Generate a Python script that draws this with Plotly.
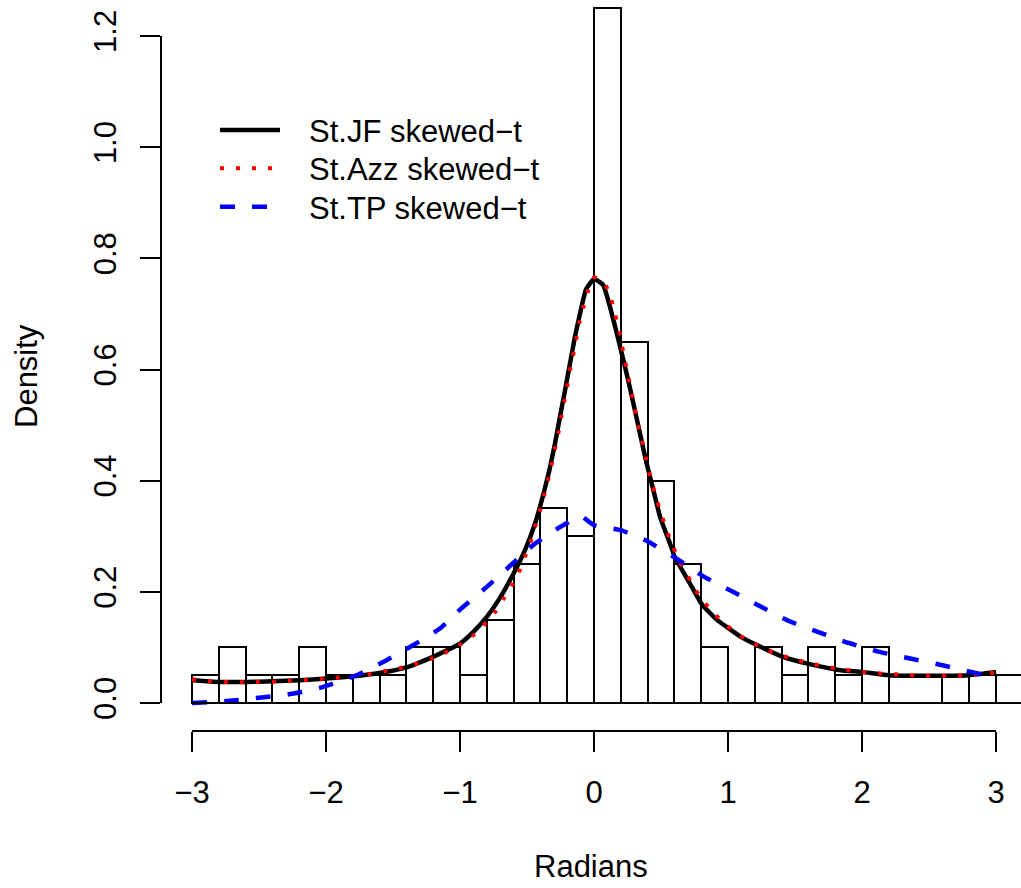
import plotly.graph_objects as go

# ---------------- data ----------------
bin_left = [-3.0, -2.8, -2.6, -2.4, -2.2, -2.0, -1.8, -1.6, -1.4, -1.2, -1.0,
            -0.8, -0.6, -0.4, -0.2, 0.0, 0.2, 0.4, 0.6, 0.8, 1.0, 1.2, 1.4,
            1.6, 1.8, 2.0, 2.2, 2.4, 2.6, 2.8, 3.0]
bin_width = 0.2
density = [0.05, 0.10, 0.05, 0.05, 0.10, 0.05, 0.05, 0.05, 0.10, 0.10, 0.05,
           0.15, 0.25, 0.35, 0.30, 1.25, 0.65, 0.40, 0.25, 0.10, 0.00, 0.10, 0.05,
           0.10, 0.05, 0.10, 0.00, 0.00, 0.05, 0.05, 0.05]

jf_x = [-3.0, -2.8, -2.6, -2.4, -2.2, -2.0, -1.8, -1.6, -1.4, -1.2,
        -1.0, -0.9, -0.8, -0.71, -0.6, -0.515, -0.44, -0.383, -0.333, -0.291,
        -0.254, -0.216, -0.179, -0.142, -0.104, -0.06, 0.0, 0.069, 0.119, 0.164,
        0.207, 0.249, 0.294, 0.343, 0.393, 0.443, 0.493, 0.567, 0.604, 0.716,
        0.804, 0.916, 1.09, 1.2, 1.41, 1.61, 1.84, 2.0, 2.2, 2.4,
        2.6, 2.8, 3.0]
jf_y = [0.041, 0.038, 0.038, 0.039, 0.041, 0.044, 0.048, 0.054, 0.064, 0.083,
        0.107, 0.128, 0.155, 0.186, 0.233, 0.275, 0.323, 0.371, 0.419, 0.467,
        0.515, 0.563, 0.611, 0.659, 0.701, 0.744, 0.763, 0.752, 0.713, 0.671,
        0.629, 0.587, 0.539, 0.485, 0.431, 0.383, 0.335, 0.287, 0.262, 0.215,
        0.178, 0.150, 0.120, 0.106, 0.083, 0.070, 0.059, 0.056, 0.050, 0.049,
        0.049, 0.050, 0.056]

azz_x = [-3.0, -2.88, -2.76, -2.64, -2.52, -2.4, -2.28, -2.16, -2.04, -1.92,
         -1.8, -1.68, -1.57, -1.45, -1.33, -1.22, -1.11, -1.005, -0.908, -0.823,
         -0.741, -0.677, -0.614, -0.56, -0.515, -0.473, -0.438, -0.403, -0.373, -0.343,
         -0.316, -0.291, -0.266, -0.244, -0.221, -0.199, -0.179, -0.154, -0.132, -0.11,
         -0.08, -0.047, 0.002, 0.082, 0.127, 0.157, 0.187, 0.209, 0.231, 0.256,
         0.281, 0.304, 0.328, 0.356, 0.383, 0.41, 0.44, 0.473, 0.51, 0.547,
         0.592, 0.642, 0.699, 0.759, 0.828, 0.908, 0.995, 1.09, 1.194, 1.301,
         1.413, 1.53, 1.644, 1.761, 1.881, 2.0, 2.117, 2.237, 2.356, 2.475,
         2.594, 2.714, 2.833, 2.953, 3.0]
azz_y = [0.0426, 0.0396, 0.0378, 0.0372, 0.0378, 0.0383, 0.0396, 0.0414, 0.0432, 0.0455,
         0.0486, 0.0516, 0.057, 0.0624, 0.0702, 0.0792, 0.0905, 0.1044, 0.1205, 0.140,
         0.1625, 0.187, 0.211, 0.236, 0.263, 0.290, 0.318, 0.346, 0.373, 0.401,
         0.430, 0.458, 0.486, 0.515, 0.543, 0.571, 0.599, 0.628, 0.656, 0.684,
         0.712, 0.740, 0.766, 0.754, 0.727, 0.699, 0.671, 0.643, 0.615, 0.587,
         0.558, 0.530, 0.502, 0.474, 0.446, 0.417, 0.389, 0.362, 0.334, 0.307,
         0.280, 0.253, 0.229, 0.203, 0.180, 0.158, 0.1385, 0.121, 0.1067, 0.0948,
         0.0846, 0.0761, 0.0696, 0.064, 0.0594, 0.0563, 0.0534, 0.0516, 0.0498, 0.0491,
         0.0491, 0.0491, 0.051, 0.0534, 0.055]

tp_x = [-3.0, -2.72, -2.48, -2.24, -2.02, -1.77, -1.57, -1.35, -1.15, -1.0,
        -0.8, -0.63, -0.45, -0.25, -0.1, 0.0, 0.2, 0.4, 0.64, 0.83,
        1.03, 1.24, 1.45, 1.67, 1.9, 2.13, 2.36, 2.6, 2.83, 3.0]
tp_y = [0.0, 0.004, 0.010, 0.017, 0.029, 0.050, 0.074, 0.104, 0.134, 0.168,
        0.209, 0.246, 0.285, 0.317, 0.336, 0.320, 0.311, 0.291, 0.256, 0.226,
        0.201, 0.174, 0.148, 0.128, 0.108, 0.092, 0.080, 0.068, 0.055, 0.046]

legend_labels = ["St.JF skewed\u2212t", "St.Azz skewed\u2212t", "St.TP skewed\u2212t"]
x_ticks = [-3, -2, -1, 0, 1, 2, 3]
y_ticks = [0.0, 0.2, 0.4, 0.6, 0.8, 1.0, 1.2]
x_title = "Radians"
y_title = "Density"

# ---------------- layout geometry ----------------
W, H = 1021, 888
ML, MR, MT, MB = 161, 0, 0, 157
PW, PH = W - ML - MR, H - MT - MB
FONT = "Liberation Sans, Arial, Helvetica, sans-serif"
FS = 31

def px_x(p):
    return (p - ML) / PW

def px_y(p):
    return (H - MB - p) / PH

styles = [
    dict(color="#000000", width=4.5, dash="solid"),
    dict(color="#ff0000", width=4, dash="4px,12px"),
    dict(color="#0000ff", width=4.5, dash="15px,17px"),
]

fig = go.Figure()

centers = [b + bin_width / 2 for b in bin_left]
fig.add_trace(go.Bar(
    x=centers, y=density, width=bin_width,
    marker=dict(color="white", line=dict(color="black", width=2)),
    showlegend=False, hoverinfo="skip",
))

for xs, ys, st, name in [(jf_x, jf_y, styles[0], legend_labels[0]),
                          (azz_x, azz_y, styles[1], legend_labels[1]),
                          (tp_x, tp_y, styles[2], legend_labels[2])]:
    fig.add_trace(go.Scatter(
        x=xs, y=ys, mode="lines", name=name,
        line=dict(color=st["color"], width=st["width"], dash=st["dash"],
                  shape="spline", smoothing=0.4),
        showlegend=False,
    ))

shapes = []
# histogram baseline (covers empty bins)
shapes.append(dict(type="line", xref="x", yref="y",
                   x0=bin_left[0], x1=bin_left[-1] + bin_width, y0=0, y1=0,
                   line=dict(color="black", width=2)))
# R-style axis lines from first to last tick
shapes.append(dict(type="line", xref="x", yref="paper",
                   x0=x_ticks[0], x1=x_ticks[-1], y0=0, y1=0,
                   line=dict(color="black", width=2)))
shapes.append(dict(type="line", xref="paper", yref="y",
                   x0=0, x1=0, y0=y_ticks[0], y1=y_ticks[-1],
                   line=dict(color="black", width=2)))

annotations = []
row_line_y = [130, 168.3, 206.7]
row_text_y = [131, 169.5, 208]
for i in range(3):
    st = styles[i]
    shapes.append(dict(type="line", xref="paper", yref="paper",
                       x0=px_x(220), x1=px_x(280),
                       y0=px_y(row_line_y[i]), y1=px_y(row_line_y[i]),
                       line=dict(color=st["color"], width=st["width"], dash=st["dash"])))
    annotations.append(dict(xref="paper", yref="paper",
                            x=px_x(307), y=px_y(row_text_y[i]),
                            xanchor="left", yanchor="middle", showarrow=False,
                            text=legend_labels[i],
                            font=dict(family=FONT, size=FS, color="black")))

annotations.append(dict(xref="paper", yref="paper", x=0.5, y=0,
                        yshift=-(866 - (H - MB)), xanchor="center", yanchor="middle",
                        showarrow=False, text=x_title,
                        font=dict(family=FONT, size=FS, color="black")))
annotations.append(dict(xref="paper", yref="paper", x=0, y=px_y(376),
                        xshift=-(ML - 26), xanchor="center", yanchor="middle",
                        showarrow=False, text=y_title, textangle=-90,
                        font=dict(family=FONT, size=FS, color="black")))

x_px_per_unit = 134.0
y_px_per_unit = 555.8
x_lo = -3 - (192 - ML) / x_px_per_unit
x_hi = x_lo + PW / x_px_per_unit
y_lo = -((H - MB) - 703) / y_px_per_unit
y_hi = y_lo + PH / y_px_per_unit

fig.update_layout(
    width=W, height=H,
    margin=dict(l=ML, r=MR, t=MT, b=MB, pad=0),
    paper_bgcolor="white", plot_bgcolor="white",
    font=dict(family=FONT, size=FS, color="black"),
    bargap=0, showlegend=False,
    shapes=shapes, annotations=annotations,
    xaxis=dict(range=[x_lo, x_hi], tickvals=x_ticks, ticks="outside",
               ticklen=20, tickwidth=2, tickcolor="black", showline=False,
               showgrid=False, zeroline=False, ticklabelstandoff=14,
               tickfont=dict(family=FONT, size=FS, color="black"),
               automargin=False),
    yaxis=dict(range=[y_lo, y_hi], tickvals=y_ticks, tickformat=".1f",
               ticks="outside", ticklen=20, tickwidth=2, tickcolor="black",
               showline=False, showgrid=False, zeroline=False, tickangle=-90,
               ticklabelstandoff=12,
               tickfont=dict(family=FONT, size=FS, color="black"),
               automargin=False),
)

fig.write_html("out.html")
